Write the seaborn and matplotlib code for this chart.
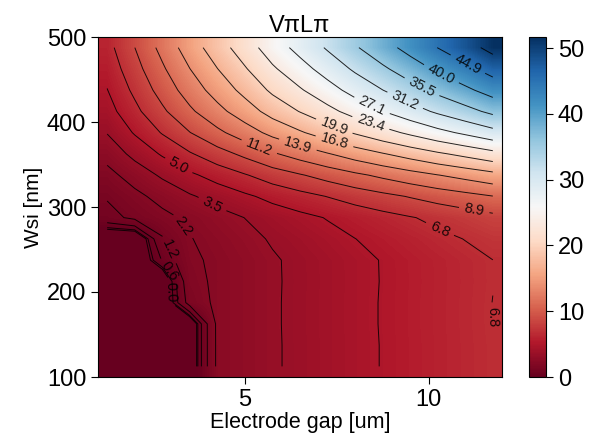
import numpy as np
import matplotlib
matplotlib.use("Agg")
import matplotlib.pyplot as plt
import seaborn as sns

# ---- data (cell centres of the map) ----
gap_um = [1.25, 2.0, 2.75, 3.5, 4.25, 5.0, 5.75, 6.5, 7.25, 8.0, 8.75, 9.5, 10.25, 11.0, 11.75]
wsi_nm = [112.5, 137.5, 162.5, 187.5, 212.5, 237.5, 262.5, 287.5,
          312.5, 337.5, 362.5, 387.5, 412.5, 437.5, 462.5, 487.5]

# VpiLpi values, one list per Wsi row (bottom -> top); the dark lower-left
# corner is the cut-off region (at or below the bottom of the colour scale)
vpl_w112 = [-0.8, -0.8, -0.8, -0.8, 2.42, 2.85, 3.32, 3.73, 4.16, 4.61, 5.04, 5.47, 5.91, 6.33, 6.76]
vpl_w137 = [-0.8, -0.8, -0.8, -0.8, 2.42, 2.85, 3.32, 3.73, 4.16, 4.61, 5.04, 5.47, 5.91, 6.33, 6.76]
vpl_w162 = [-0.8, -0.8, -0.8, -0.8, 2.43, 2.86, 3.33, 3.74, 4.17, 4.62, 5.06, 5.49, 5.94, 6.35, 6.80]
vpl_w187 = [-0.8, -0.8, -0.8, 1.60, 2.43, 2.86, 3.33, 3.74, 4.17, 4.62, 5.06, 5.49, 5.94, 6.35, 6.80]
vpl_w212 = [-0.8, -0.8, -0.8, 1.85, 2.42, 2.85, 3.32, 3.73, 4.16, 4.61, 5.04, 5.47, 5.91, 6.33, 6.76]
vpl_w237 = [-0.8, -0.8, 0.60, 2.01, 2.43, 2.86, 3.33, 3.74, 4.17, 4.62, 5.05, 5.49, 5.93, 6.35, 6.78]
vpl_w262 = [-0.8, -0.8, 1.15, 2.16, 2.62, 3.08, 3.59, 4.03, 4.49, 4.97, 5.44, 5.91, 6.39, 6.83, 7.32]
vpl_w287 = [0.98, 1.42, 1.92, 2.44, 2.96, 3.48, 4.05, 4.55, 5.07, 5.62, 6.14, 6.67, 7.21, 7.72, 8.27]
vpl_w312 = [1.32, 1.92, 2.59, 3.30, 3.98, 4.69, 5.46, 6.14, 6.84, 7.58, 8.28, 9.00, 9.73, 10.41, 11.15]
vpl_w337 = [1.86, 2.71, 3.66, 4.67, 5.64, 6.64, 7.74, 8.69, 9.69, 10.73, 11.73, 12.75, 13.78, 14.74, 15.79]
vpl_w362 = [2.63, 3.83, 5.17, 6.59, 7.97, 9.37, 10.92, 12.27, 13.68, 15.15, 16.57, 18.00, 19.45, 20.81, 22.29]
vpl_w387 = [3.52, 5.13, 6.92, 8.81, 10.66, 12.54, 14.61, 16.41, 18.30, 20.26, 22.16, 24.07, 26.02, 27.83, 29.81]
vpl_w412 = [4.30, 6.27, 8.46, 10.78, 13.03, 15.33, 17.86, 20.07, 22.37, 24.78, 27.09, 29.43, 31.81, 34.03, 36.46]
vpl_w437 = [4.94, 7.20, 9.72, 12.38, 14.97, 17.61, 20.52, 23.05, 25.70, 28.46, 31.12, 33.80, 36.54, 39.10, 41.88]
vpl_w462 = [5.52, 8.04, 10.85, 13.82, 16.71, 19.66, 22.91, 25.74, 28.69, 31.78, 34.75, 37.74, 40.80, 43.65, 46.75]
vpl_w487 = [6.08, 8.85, 11.95, 15.22, 18.41, 21.65, 25.23, 28.35, 31.60, 35.00, 38.27, 41.57, 44.94, 48.08, 51.50]

contour_levels = [0.0, 0.1385, 0.5540, 1.2465, 2.2161, 3.4626, 4.9861, 6.7867, 8.8643, 11.2188,
                  13.8504, 16.7590, 19.9446, 23.4072, 27.1468, 31.1634, 35.4571, 40.0277, 44.8754, 50.0]
# where the contour labels sit (gap um, Wsi nm)
label_spots = [(11.11, 471), (10.33, 455), (9.79, 439), (9.38, 427), (8.48, 421),
               (8.43, 399), (7.45, 397), (7.45, 379), (6.44, 373), (5.43, 375),
               (11.25, 298), (10.33, 276), (3.2, 349), (4.15, 306), (3.37, 279),
               (2.96, 250), (2.94, 224.5), (2.97, 200), (11.74, 170)]
color_min, color_max = 0.0, 51.7
x_ticks = [5, 10]
y_ticks = [100, 200, 300, 400, 500]
cbar_ticks = [0, 10, 20, 30, 40, 50]
title_text = "VπLπ"
x_label = "Electrode gap [um]"
y_label = "Wsi [nm]"

# ---- style ----
sns.set_theme(style="ticks", rc={
    "axes.edgecolor": "black", "text.color": "black", "axes.labelcolor": "black",
    "xtick.color": "black", "ytick.color": "black", "axes.linewidth": 0.8,
})
plt.rcParams["font.family"] = ["Liberation Sans", "DejaVu Sans"]

rows = [vpl_w112, vpl_w137, vpl_w162, vpl_w187, vpl_w212, vpl_w237, vpl_w262, vpl_w287,
        vpl_w312, vpl_w337, vpl_w362, vpl_w387, vpl_w412, vpl_w437, vpl_w462, vpl_w487]
Z = np.array(rows, dtype=float)
x = np.array(gap_um)
y = np.array(wsi_nm)
dx = x[1] - x[0]
dy = y[1] - y[0]

fig = plt.figure(figsize=(5.95, 4.38), dpi=100)
W, H = 595.0, 438.0
ax = fig.add_axes([98 / W, 1 - 377 / H, 404 / W, 340 / H])
cax = fig.add_axes([529 / W, 1 - 377 / H, 17 / W, 340 / H])

cmap = sns.color_palette("RdBu", as_cmap=True)
im = ax.imshow(Z, origin="lower", aspect="auto", cmap=cmap, vmin=color_min, vmax=color_max,
               extent=[x[0] - dx / 2, x[-1] + dx / 2, y[0] - dy / 2, y[-1] + dy / 2],
               interpolation="bilinear", interpolation_stage="data")
cs = ax.contour(x, y, Z, levels=contour_levels, colors="black", linewidths=0.7, alpha=0.85)
ax.clabel(cs, fmt="%.1f", fontsize=10.5, inline=True, manual=label_spots)

ax.set_xlim(1, 12)
ax.set_ylim(100, 500)
ax.set_xticks(x_ticks)
ax.set_yticks(y_ticks)
ax.tick_params(labelsize=17, length=5, width=0.8, direction="out")
ax.set_xlabel(x_label, fontsize=15.5, labelpad=1)
ax.set_ylabel(y_label, fontsize=15, labelpad=3)
ax.set_title(title_text, fontsize=17, pad=3)
for s in ax.spines.values():
    s.set_visible(True)
    s.set_color("black")

cb = fig.colorbar(im, cax=cax, ticks=cbar_ticks)
cb.ax.tick_params(labelsize=17, length=5, width=0.8)
cb.outline.set_linewidth(0.8)

fig.savefig("out.png", dpi=100)
